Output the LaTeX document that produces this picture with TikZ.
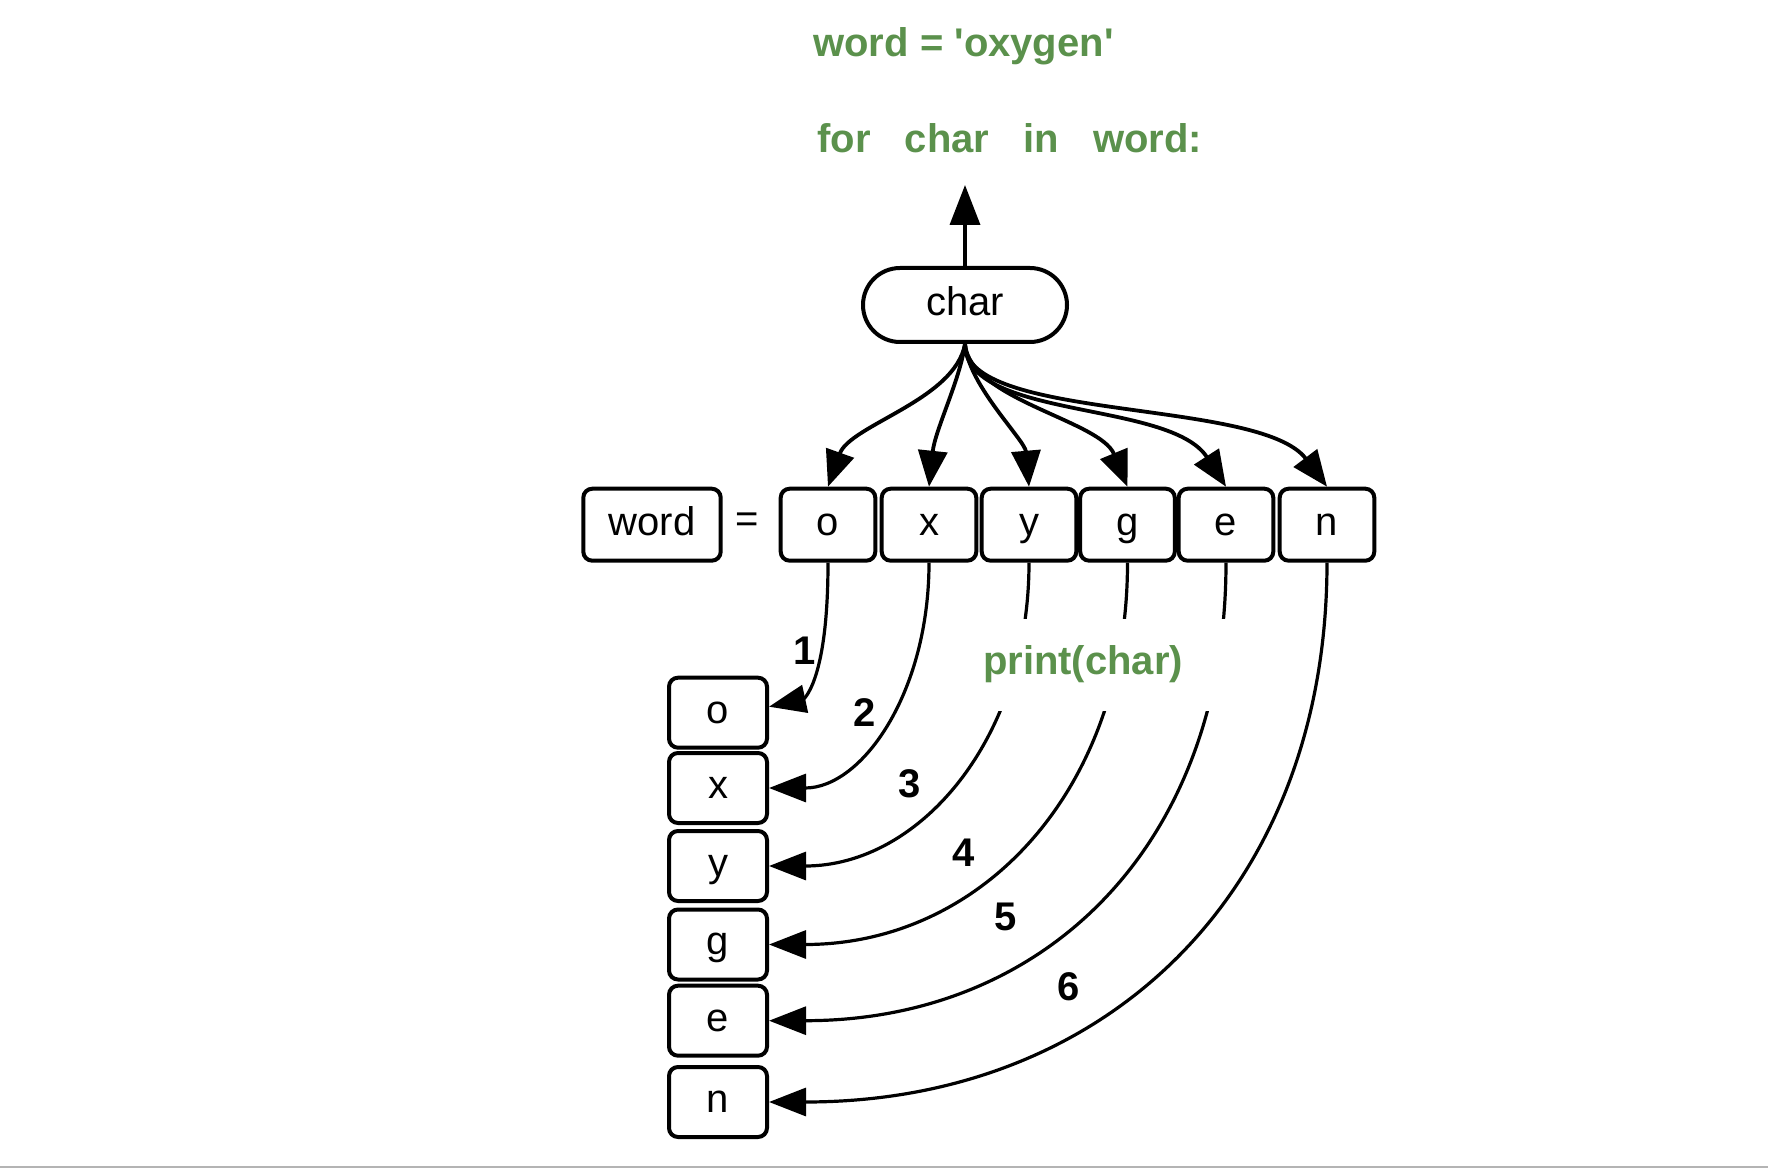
\documentclass[tikz,border=0pt]{standalone}
\usepackage{fontspec}
\setmainfont{Liberation Sans}[Ligatures=TeXOff]
\usetikzlibrary{arrows.meta}
\definecolor{codegreen}{RGB}{91,145,76}
\definecolor{rulegray}{RGB}{180,180,180}
\begin{document}
\begin{tikzpicture}[x=0.5pt,y=-0.5pt,
  every node/.style={font=\fontsize{20}{24}\selectfont},
  cell/.style={draw, line width=2pt, rounded corners=4.5pt, inner sep=0pt,
    text height=10.4pt, text depth=0pt, minimum width=47.3pt, minimum height=36pt},
  colcell/.style={cell, minimum width=49pt, minimum height=35pt},
  pill/.style={cell, rounded corners=18.5pt, minimum width=102pt, minimum height=37pt},
  codetext/.style={text=codegreen, font=\fontsize{20}{24}\selectfont\bfseries, anchor=base, inner sep=0pt},
  num/.style={font=\fontsize{20}{24}\selectfont\bfseries, inner sep=0pt},
  fan/.style={line width=1.9pt, -{Triangle[length=18pt,width=14.5pt]}},
  flow/.style={line width=1.6pt, -{Triangle[length=18.5pt,width=14pt]}},
  uparrow/.style={line width=1.8pt, -{Triangle[length=20pt,width=15pt]}},
]
\useasboundingbox (0,0) rectangle (1768,1176);

% code text
\node[codetext] (title) at (963.5,57) {word = 'oxygen'};
\node[codetext] (loop) at (1009.75,153) {for\hspace{17pt}char\hspace{17pt}in\hspace{17pt}word:};

% loop variable
\coordinate (up) at (965,185);
\node[pill] (char) at (965,305) {char};
\draw[uparrow] (char.north) -- (up);

% word row
\node[cell, minimum width=68.7pt] (word) at (652,524.7) {word};
\node (eq) at (747,523) {=};
\node[cell] (t1) at (828,524.7) {o};
\node[cell] (t2) at (929,524.7) {x};
\node[cell] (t3) at (1029,524.7) {y};
\node[cell] (t4) at (1127.5,524.7) {g};
\node[cell] (t5) at (1226,524.7) {e};
\node[cell] (t6) at (1327,524.7) {n};

% output column
\node[colcell] (l1) at (718,712.7) {o};
\node[colcell] (l2) at (718,788) {x};
\node[colcell] (l3) at (718,866) {y};
\node[colcell] (l4) at (718,944.5) {g};
\node[colcell] (l5) at (718,1020.7) {e};
\node[colcell] (l6) at (718,1102) {n};

% fan from char to letters
\draw[fan] (char.south) .. controls (955,400) and (850,425) .. (t1.north);
\draw[fan] (char.south) .. controls (960,380) and (935,430) .. (t2.north);
\draw[fan] (char.south) .. controls (968,385) and (1025,440) .. (t3.north);
\draw[fan] (char.south) .. controls (970,400) and (1100,420) .. (t4.north);
\draw[fan] (char.south) .. controls (965,420) and (1170,400) .. (t5.north);
\draw[fan] (char.south) .. controls (964,422) and (1260,398) .. (t6.north);

% print arrows
\draw[flow] (t1.south) .. controls (828,690) and (800,700) .. ([yshift=3pt]l1.east);
\draw[flow] (t2.south) .. controls (929,693) and (861.8,788) .. (l2.east);
\begin{scope}
  \clip (0,0) rectangle (1768,618);
  \draw[flow] (t3.south) .. controls (1029,738.7) and (919.8,866) .. (l3.east);
  \draw[flow] (t4.south) .. controls (1127.5,790) and (982,944.5) .. (l4.east);
  \draw[flow] (t5.south) .. controls (1226,842.2) and (1047.8,1020.7) .. (l5.east);
\end{scope}
\begin{scope}
  \clip (0,711.7) rectangle (1768,1176);
  \draw[flow] (t3.south) .. controls (1029,738.7) and (919.8,866) .. (l3.east);
  \draw[flow] (t4.south) .. controls (1127.5,790) and (982,944.5) .. (l4.east);
  \draw[flow] (t5.south) .. controls (1226,842.2) and (1047.8,1020.7) .. (l5.east);
\end{scope}
\draw[flow] (t6.south) .. controls (1327,890) and (1108,1102) .. (l6.east);

\node[codetext] (print) at (1083,675) {print(char)};

% step numbers
\node[num] (n1) at (805,651) {1};
\node[num] (n2) at (865,713) {2};
\node[num] (n3) at (910,784) {3};
\node[num] (n4) at (963.5,853) {4};
\node[num] (n5) at (1005.5,917) {5};
\node[num] (n6) at (1069,987) {6};

% bottom rule
\coordinate (ruleL) at (0,1167);
\coordinate (ruleR) at (1768,1167);
\draw[rulegray, line width=1pt] (ruleL) -- (ruleR);
\end{tikzpicture}
\end{document}
